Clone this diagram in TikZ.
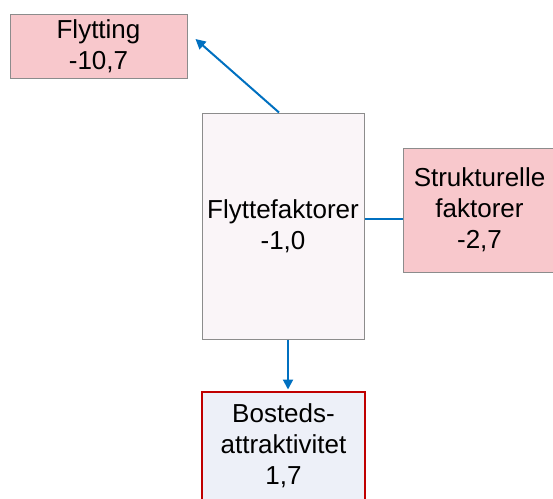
\documentclass[tikz,border=0pt]{standalone}
\usepackage{fontspec}
\setmainfont{Liberation Sans}
\usetikzlibrary{arrows.meta}
\definecolor{boxgray}{HTML}{8C8C8C}
\definecolor{pinkfill}{HTML}{F8C8CC}
\definecolor{palefill}{HTML}{FAF5F8}
\definecolor{bluefill}{HTML}{EDF0F8}
\definecolor{darkred}{HTML}{C00000}
\definecolor{linkblue}{HTML}{0070C0}
\tikzset{
  factor/.style={draw=boxgray, line width=1pt, align=center, inner sep=0pt,
    font=\fontsize{26}{31}\selectfont, text=black},
  link/.style={draw=linkblue, line width=2pt},
  arr/.style={link, -{Triangle[length=10pt,width=10pt]}}
}
\begin{document}
\begin{tikzpicture}[x=1pt,y=-1pt]
\useasboundingbox (0,0) rectangle (553,498);
\clip (0,0) rectangle (553,498);
\node[factor, fill=pinkfill, minimum width=177pt, minimum height=64pt] (fl) at (98.5,46) {Flytting\\-10,7};
\node[factor, fill=palefill, minimum width=162pt, minimum height=226pt] (ff) at (283,226) {Flyttefaktorer\\-1,0};
\node[factor, fill=pinkfill, minimum width=152pt, minimum height=124pt] (st) at (479.5,210) {Strukturelle\\faktorer\\-2,7};
\node[factor, draw=darkred, line width=2.5pt, fill=bluefill, minimum width=163pt, minimum height=108pt] (bo) at (283.5,446) {Bosteds-\\attraktivitet\\1,7};
\draw[arr] ([xshift=-4pt]ff.north) -- ([xshift=8pt,yshift=7pt]fl.east);
\draw[link] ([yshift=7pt]ff.east) -- ([yshift=-9pt]st.west);
\draw[arr] ([xshift=5pt]ff.south) -- ([xshift=4.5pt,yshift=1.25pt]bo.north);
\end{tikzpicture}
\end{document}
